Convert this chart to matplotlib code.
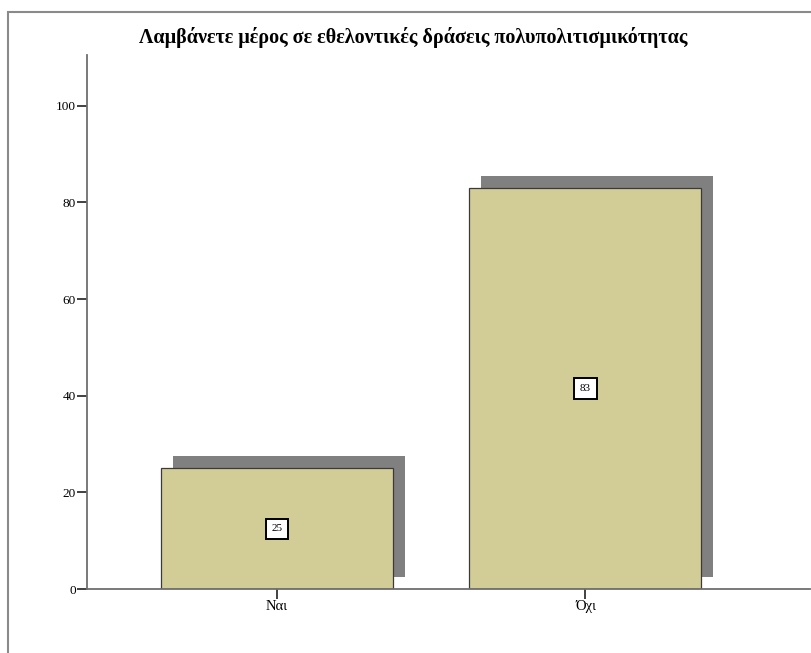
import matplotlib.pyplot as plt
from matplotlib import transforms
from matplotlib.patches import Rectangle

plt.rcParams['font.family'] = ['Liberation Serif', 'DejaVu Serif']

# data
categories = ['Ναι', 'Όχι']
values = [25, 83]
value_labels = ['25', '83']
yticks = [0, 20, 40, 60, 80, 100]
title = 'Λαμβάνετε μέρος σε εθελοντικές δράσεις πολυπολιτισμικότητας'

fig = plt.figure(figsize=(8.11, 6.53), dpi=100)
ax = fig.add_axes([87/811, 1-589/653, (810-87)/811, (589-55)/653])

bar_color = '#d2cd97'
shadow_color = '#808080'
width = 0.752
pos = list(range(len(categories)))

# shadow: same bars shifted 12px right and 12px up
shadow_tr = transforms.offset_copy(ax.transData, fig=fig, x=12, y=12, units='dots')
ax.bar(pos, values, width=width, color=shadow_color, transform=shadow_tr, zorder=1)
ax.bar(pos, values, width=width, color=bar_color, edgecolor='#3a3a3a', linewidth=0.9, zorder=2)

for x, v, lab in zip(pos, values, value_labels):
    ax.text(x, v/2, lab, ha='center', va='center', fontsize=8, zorder=3,
            bbox=dict(boxstyle='square,pad=0.5', fc='white', ec='black', lw=1.4))

ax.set_xlim(-0.616, 1.728)
ax.set_ylim(0, 110.5)
ax.set_yticks(yticks)
ax.set_yticklabels([str(t) for t in yticks], fontsize=9.5)
ax.set_xticks(pos)
ax.set_xticklabels(categories, fontsize=10.5)

for s in ['top', 'right']:
    ax.spines[s].set_visible(False)
ax.spines['left'].set_color('#6e6e6e')
ax.spines['bottom'].set_color('#6e6e6e')
ax.spines['left'].set_linewidth(1.3)
ax.spines['bottom'].set_linewidth(1.3)
ax.tick_params(axis='both', direction='out', length=7, width=1.3, color='#333333', pad=1)

fig.text(413/811, 1-43/653, title, ha='center', va='baseline', fontsize=14.5, fontweight='bold')

# outer frame
fig.patches.append(Rectangle((8/811, -0.05), 1.1, 1-12/653+0.05, transform=fig.transFigure,
                             fill=False, ec='#8a8a8a', lw=1.5))

fig.savefig('out.png', dpi=100)
